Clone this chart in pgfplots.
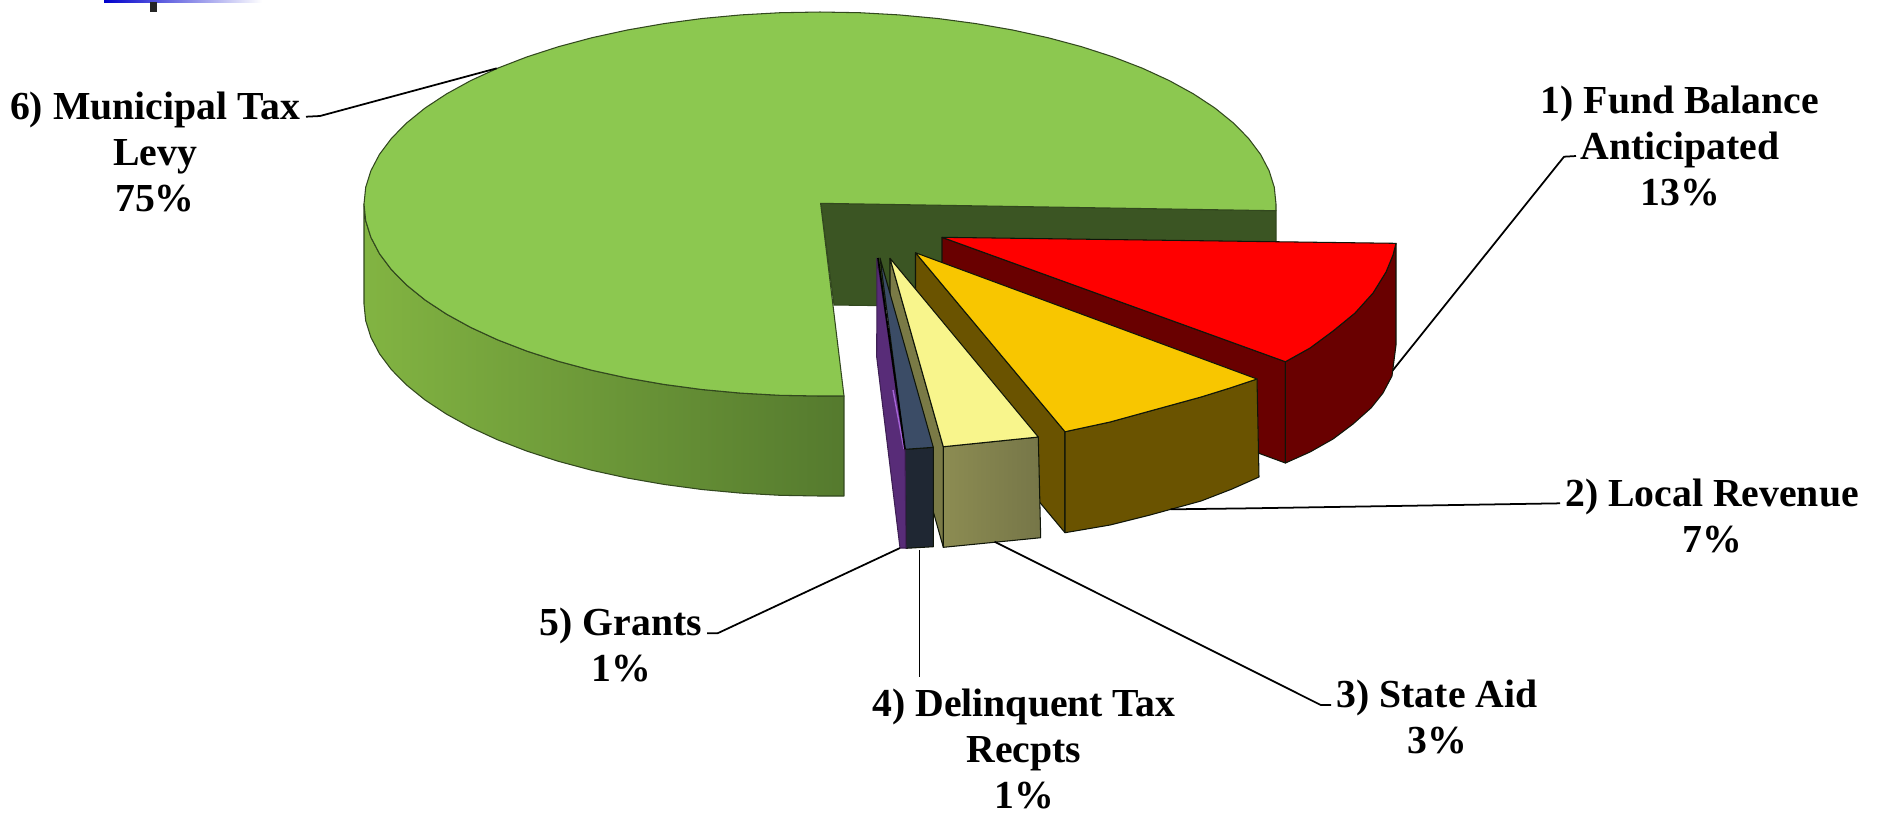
\documentclass[border=0pt]{standalone}
\usepackage{pgfplots}
\pgfplotsset{compat=1.18}
\usepackage{fontspec}
\setmainfont{Liberation Serif}
\definecolor{gtop}{RGB}{140,200,80}
\definecolor{gwall}{RGB}{59,85,35}
\definecolor{gs1}{RGB}{130,180,66}
\definecolor{gs2}{RGB}{120,168,62}
\definecolor{gs3}{RGB}{85,122,46}
\definecolor{dred}{RGB}{105,0,0}
\definecolor{gold}{RGB}{248,198,0}
\definecolor{dgold}{RGB}{106,83,0}
\definecolor{pale}{RGB}{248,245,140}
\definecolor{olive}{RGB}{122,122,70}
\definecolor{ol1}{RGB}{140,140,82}
\definecolor{ol2}{RGB}{118,118,72}
\definecolor{navyt}{RGB}{59,76,102}
\definecolor{navyf}{RGB}{31,39,51}
\definecolor{purp}{RGB}{88,44,120}
\definecolor{purpl}{RGB}{165,100,215}
\tikzset{
  edge/.style={draw=black!75!gwall, line width=0.3pt, line join=round},
  gedge/.style={draw=gwall!85!black, line width=0.3pt, line join=round},
  lead/.style={draw=black, line width=0.5pt, line join=round},
  lab/.style={font=\fontsize{11.3}{13}\selectfont\bfseries, align=center, text=black, inner sep=0pt},
}
\begin{document}
\begin{tikzpicture}
\begin{axis}[
  scale only axis, width=18.81cm, height=8.12cm,
  xmin=0, xmax=1881, ymin=0, ymax=812, y dir=reverse,
  axis lines=none,
]
\path (axis cs:0,0) rectangle (axis cs:1881,812);
% cropped title fragment
\addplot[draw=none, left color=blue!80!black, right color=white] coordinates {(104,0)(262,0)(262,2.2)(104,2.2)} --cycle;
\addplot[draw=none, fill=black!85] coordinates {(150,2)(157,2)(157,12)(150,12)} --cycle;

% 6) Municipal Tax Levy: side
\addplot[gedge, left color=gs1, middle color=gs2, right color=gs3] coordinates {
(364,204)(365.7,220.7)(370.9,237.3)(379.5,253.7)(391.5,269.7)(406.7,285.1)(425.1,300)(446.5,314.1)(470.7,327.4)(497.6,339.8)(526.9,351.1)(558.4,361.3)(592,370.3)(627.3,378)(664,384.4)(702,389.5)(740.8,393.1)(780.2,395.3)(820,396)(844,396)
(844,496)(820,496)(780.2,495.3)(740.8,493.1)(702,489.5)(664,484.4)(627.3,478)(592,470.3)(558.4,461.3)(526.9,451.1)(497.6,439.8)(470.7,427.4)(446.5,414.1)(425.1,400)(406.7,385.1)(391.5,369.7)(379.5,353.7)(370.9,337.3)(365.7,320.7)(364,304)
} --cycle;
% inner wall
\addplot[gedge, fill=gwall] coordinates {(820.6,203.3)(1276,210.7)(1276,311)(834,305)} --cycle;
% top
\addplot[gedge, fill=gtop] coordinates {
(820.6,203.3)(1276,210.7)(1276,204)(1274.3,187.3)(1269.1,170.7)(1260.5,154.3)(1248.5,138.3)(1233.3,122.9)(1214.9,108)(1193.5,93.9)(1169.3,80.6)(1142.4,68.2)(1113.1,56.9)(1081.6,46.7)(1048,37.7)(1012.7,30)(976,23.6)(938,18.5)(899.2,14.9)(859.8,12.7)(820,12)(780.2,12.7)(740.8,14.9)(702,18.5)(664,23.6)(627.3,30)(592,37.7)(558.4,46.7)(526.9,56.9)(497.6,68.2)(470.7,80.6)(446.5,93.9)(425.1,108)(406.7,122.9)(391.5,138.3)(379.5,154.3)(370.9,170.7)(365.7,187.3)(364,204)(365.7,220.7)(370.9,237.3)(379.5,253.7)(391.5,269.7)(406.7,285.1)(425.1,300)(446.5,314.1)(470.7,327.4)(497.6,339.8)(526.9,351.1)(558.4,361.3)(592,370.3)(627.3,378)(664,384.4)(702,389.5)(740.8,393.1)(780.2,395.3)(820,396)(844,396)
} --cycle;

% leader 1 sits behind the red slice edge
\addplot[lead] coordinates {(1576,156)(1564,156.7)(1389,375)};

% 1) Fund Balance Anticipated
\addplot[edge, fill=dred] coordinates {(942,237.3)(1285.4,361.7)(1285.4,463)(942,337)} --cycle;
\addplot[edge, fill=dred] coordinates {(1285.4,361.7)(1310,348)(1333,331)(1355,313)(1373,293)(1386,272)(1393,255)(1396,243.3)(1396,345)(1392,376)(1383,393)(1371,408)(1353,424)(1333,439)(1310,452)(1285.4,463)} --cycle;
\addplot[edge, fill=red] coordinates {(942,237.3)(1396,243.3)(1393,255)(1386,272)(1373,293)(1355,313)(1333,331)(1310,348)(1285.4,361.7)} --cycle;

% 2) Local Revenue
\addplot[edge, fill=dgold] coordinates {(915.5,252.7)(1065,431.7)(1065,532.7)(915.5,353)} --cycle;
\addplot[edge, fill=dgold] coordinates {(1065,431.7)(1110,422)(1150,411)(1201,397)(1230,388)(1257,379)(1259,477)(1232,489)(1201,501)(1150,515)(1110,525)(1065,532.7)} --cycle;
\addplot[edge, fill=gold] coordinates {(915.5,252.7)(1257,379)(1230,388)(1201,397)(1150,411)(1110,422)(1065,431.7)} --cycle;

% 3) State Aid
\addplot[edge, fill=olive] coordinates {(890,258.3)(943.3,446.7)(943.3,547.3)(890,358)} --cycle;
\addplot[edge, left color=ol1, right color=ol2] coordinates {(943.3,446.7)(1038.3,437)(1040.7,537.7)(943.3,547.3)} --cycle;
\addplot[edge, fill=pale] coordinates {(890,258.3)(1038.3,437)(943.3,446.7)} --cycle;

% 4) Delinquent Tax Recpts
\addplot[edge, fill=navyf] coordinates {(905,449.3)(933.3,447.3)(933.3,546.7)(906,548.3)} --cycle;
\addplot[edge, fill=navyt] coordinates {(880,258)(933.3,447.3)(905,449.3)} --cycle;

% 5) Grants
\addplot[draw=purp!70!black, line width=0.3pt, fill=purp] coordinates {(877,258)(876.7,357)(900,548)(906,548)(905,449.3)} --cycle;
\addplot[draw=purpl, line width=0.4pt] coordinates {(893,390)(904,449)};
\addplot[draw=black, line width=0.5pt] coordinates {(878,258)(905,449.3)};

% other leaders
\addplot[lead] coordinates {(306,116.7)(320,116)(496.7,68.3)};
\addplot[lead] coordinates {(1560,503.3)(1250,508.3)(1170.6,509.3)};
\addplot[lead] coordinates {(994.6,541.7)(1320.8,705)(1331,705)};
\addplot[lead] coordinates {(919.5,550)(919.5,676.7)};
\addplot[lead] coordinates {(900,548)(717.5,633.3)(707,633.3)};

% labels
\node[lab] at (axis cs:155,152) {6) Municipal Tax\\Levy\\75\%};
\node[lab] at (axis cs:1680,146) {1) Fund Balance\\Anticipated\\13\%};
\node[lab] at (axis cs:1712,516) {2) Local Revenue\\7\%};
\node[lab] at (axis cs:1437,717) {3) State Aid\\3\%};
\node[lab] at (axis cs:1024,749) {4) Delinquent Tax\\Recpts\\1\%};
\node[lab] at (axis cs:621,645) {5) Grants\\1\%};
\end{axis}
\end{tikzpicture}
\end{document}
